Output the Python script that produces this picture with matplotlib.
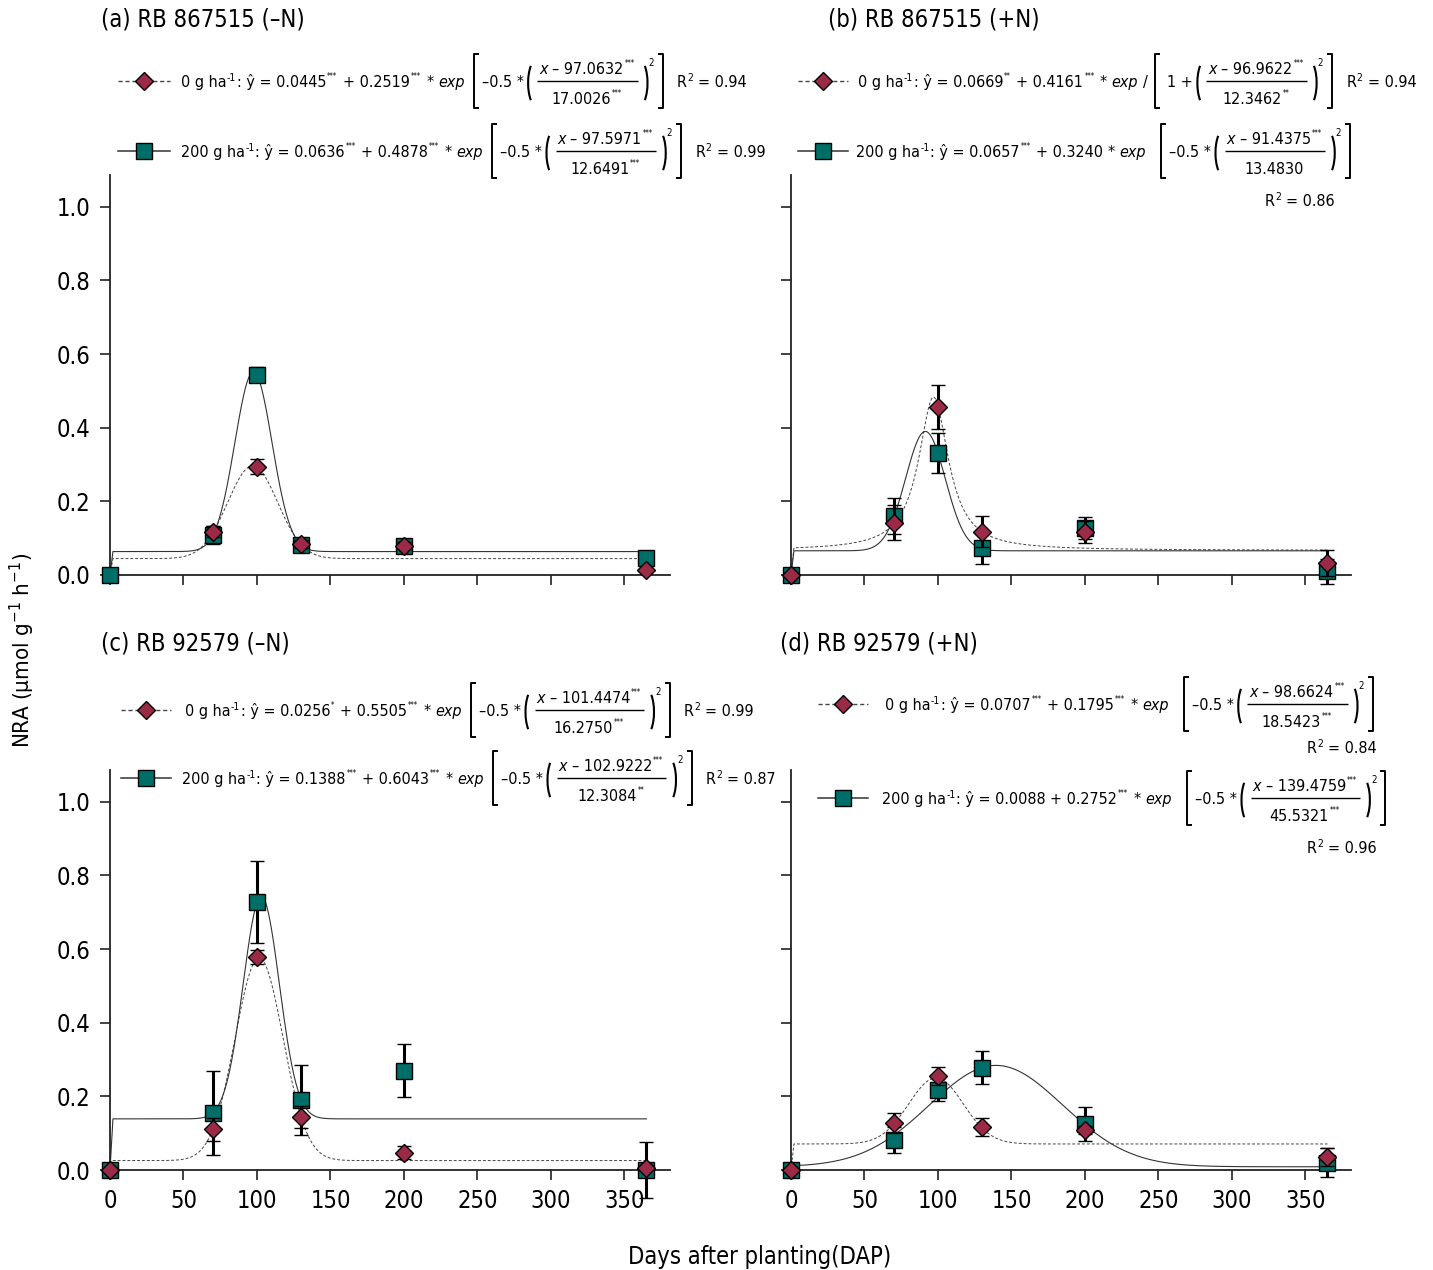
import numpy as np
import matplotlib
matplotlib.use("Agg")
import matplotlib.pyplot as plt
from matplotlib.lines import Line2D
from matplotlib.patches import Arc

plt.rcParams['font.family'] = ['DejaVu Sans']
plt.rcParams['font.stretch'] = 'condensed'
plt.rcParams['mathtext.fontset'] = 'dejavusans'

W, H = 1433, 1270

dap = [0, 70, 100, 130, 200, 365]
titles = ["(a) RB 867515 (–N)", "(b) RB 867515 (+N)", "(c) RB 92579 (–N)", "(d) RB 92579 (+N)"]
doses = ["0", "200"]

# NRA means and standard errors, 0 g/ha (diamonds)
nra_0 = [[np.nan, 0.117, 0.294, 0.084, 0.080, 0.013],
         [0.0, 0.142, 0.457, 0.118, 0.117, 0.032],
         [0.0, 0.110, 0.578, 0.145, 0.047, 0.005],
         [0.0, 0.128, 0.256, 0.117, 0.109, 0.035]]
err_0 = [[0.0, 0.015, 0.020, 0.012, 0.010, 0.005],
         [0.0, 0.047, 0.060, 0.043, 0.030, 0.036],
         [0.0, 0.030, 0.020, 0.030, 0.017, 0.005],
         [0.0, 0.028, 0.025, 0.025, 0.010, 0.025]]
# 200 g/ha (squares)
nra_200 = [[0.0, 0.109, 0.544, 0.082, 0.080, 0.046],
           [0.0, 0.160, 0.332, 0.073, 0.128, 0.010],
           [0.0, 0.155, 0.727, 0.190, 0.270, 0.000],
           [0.0, 0.082, 0.218, 0.278, 0.125, 0.020]]
err_200 = [[0.0, 0.025, 0.020, 0.018, 0.010, 0.005],
           [0.0, 0.050, 0.054, 0.043, 0.030, 0.034],
           [0.0, 0.115, 0.112, 0.095, 0.073, 0.075],
           [0.0, 0.035, 0.032, 0.045, 0.045, 0.040]]

# fitted parameters (a, b, x0, s), significance stars, model, R2
fit_0 = [(0.0445, 0.2519, 97.0632, 17.0026), (0.0669, 0.4161, 96.9622, 12.3462),
         (0.0256, 0.5505, 101.4474, 16.2750), (0.0707, 0.1795, 98.6624, 18.5423)]
stars_0 = [("***", "***", "***", "***"), ("**", "***", "***", "**"),
           ("*", "***", "***", "***"), ("***", "***", "***", "***")]
model_0 = ["gauss", "lorentz", "gauss", "gauss"]
r2_0 = [0.94, 0.94, 0.99, 0.84]

fit_200 = [(0.0636, 0.4878, 97.5971, 12.6491), (0.0657, 0.3240, 91.4375, 13.4830),
           (0.1388, 0.6043, 102.9222, 12.3084), (0.0088, 0.2752, 139.4759, 45.5321)]
stars_200 = [("***", "***", "***", "***"), ("***", "", "***", ""),
             ("***", "***", "***", "**"), ("", "***", "***", "***")]
model_200 = ["gauss", "gauss", "gauss", "gauss"]
r2_200 = [0.99, 0.86, 0.87, 0.96]

red = "#9b2a47"
teal = "#006e68"
EQ_SIZE = 11.5
SPACE = 4.5


def model(x, p, kind):
    a, b, mu, s = p
    if kind == "lorentz":
        return a + b / (1 + ((x - mu) / s) ** 2)
    return a + b * np.exp(-0.5 * ((x - mu) / s) ** 2)


def curve(p, kind):
    x = np.linspace(2, 365, 500)
    y = model(x, p, kind)
    return np.r_[0, x], np.r_[0, y]


def fx(x):
    return x / W


def fy(y):
    return 1 - y / H


fig = plt.figure(figsize=(W / 100, H / 100), dpi=100)
renderer = fig.canvas.get_renderer()


def put(x, base, s, size=EQ_SIZE, style="normal"):
    t = fig.text(fx(x), fy(base), s, fontsize=size, va="baseline", ha="left", style=style)
    return t, t.get_window_extent(renderer).width


def pline(xs, ys, lw=1.4):
    fig.add_artist(Line2D([fx(v) for v in xs], [fy(v) for v in ys], transform=fig.transFigure,
                          color="black", lw=lw, solid_capstyle="butt"))


def layout(tokens, x, yc):
    """Draw equation tokens left to right around centre line yc; return end x and text artists."""
    base = yc + 6
    arts = []
    for tok in tokens:
        kind = tok[0]
        if kind in ("t", "it"):
            s = tok[1]
            x += SPACE * (len(s) - len(s.lstrip(" ")))
            t, w = put(x, base, s.strip(" "), style="italic" if kind == "it" else "normal")
            arts.append(t)
            x += w + SPACE * (len(s) - len(s.rstrip(" ")))
        elif kind == "sup":
            t, w = put(x + 0.5, base - 6, tok[1], size=7.5)
            arts.append(t)
            x += w + 1
        elif kind == "star":
            if tok[1]:
                t, w = put(x + 1, base - 8, tok[1], size=5.5)
                arts.append(t)
                x += w + 2
        elif kind == "gap":
            x += tok[1]
        elif kind == "lbr":
            pline([x + 6, x + 1, x + 1, x + 6], [yc - 27, yc - 27, yc + 27, yc + 27])
            x += 9
        elif kind == "rbr":
            pline([x + 2, x + 7, x + 7, x + 2], [yc - 27, yc - 27, yc + 27, yc + 27])
            x += 11
        elif kind == "lpar":
            fig.add_artist(Arc((fx(x + 9), fy(yc + 2)), 18 / W, 48 / H, theta1=108, theta2=252,
                               transform=fig.transFigure, color="black", lw=1.5))
            x += 9
        elif kind == "rpar":
            fig.add_artist(Arc((fx(x + 1), fy(yc + 2)), 18 / W, 48 / H, theta1=-72, theta2=72,
                               transform=fig.transFigure, color="black", lw=1.5))
            x += 11
        elif kind == "sq":
            t, w = put(x, yc - 15, "2", size=7)
            arts.append(t)
            x += w + 2
        elif kind == "frac":
            num, den = tok[1], tok[2]
            n_end, n_arts = layout(num, x, yc - 13)
            d_end, d_arts = layout(den, x, yc + 17)
            wn, wd = n_end - x, d_end - x
            w = max(wn, wd) + 4
            for group, wg in ((n_arts, wn), (d_arts, wd)):
                dx = (w - wg) / 2
                for a in group:
                    px, py = a.get_position()
                    a.set_position((px + dx / W, py))
            pline([x, x + w], [yc, yc], lw=1.0)
            x += w
    return x, arts


def head_tokens(dose, p, st):
    a, b, mu, s = p
    return [("t", "%s g ha" % dose), ("sup", "-1"), ("t", ": ŷ = %.4f" % a), ("star", st[0]),
            ("t", " + %.4f" % b), ("star", st[1]), ("t", " * "), ("it", "exp")]


def body_tokens(p, st, kind, gap):
    a, b, mu, s = p
    frac = ("frac", [("it", "x"), ("t", " – %.4f" % mu), ("star", st[2])],
            [("t", "%.4f" % s), ("star", st[3])])
    if kind == "lorentz":
        return [("t", " /"), ("gap", gap), ("lbr",), ("t", " 1 + "), ("lpar",), frac,
                ("rpar",), ("sq",), ("rbr",)]
    return [("gap", gap), ("lbr",), ("t", "–0.5 * "), ("lpar",), frac, ("rpar",), ("sq",), ("rbr",)]


def r2_tokens(r2):
    return [("t", "R"), ("sup", "2"), ("t", " = %.2f" % r2)]


rects = [(110, 575), (791, 575), (110, 1170), (791, 1170)]
axes = []
for i, (l, b) in enumerate(rects):
    ax = fig.add_axes([fx(l), fy(b), 560 / W, 400 / H])
    axes.append(ax)

# legend rows: (line x0, x1, centre y, text x, gap before bracket, separate R2 position or None)
rows = [
    [(118, 170, 81, 181, 8, None), (118, 170, 151, 181, 8, None)],
    [(798, 848, 81, 858, 6, None), (798, 848, 151, 856, 14, (1265, 206))],
    [(121, 171, 710, 185, 8, None), (121, 171, 778, 182, 8, None)],
    [(818, 868, 704, 885, 14, (1307, 753)), (818, 868, 798, 882, 14, (1307, 853))],
]
title_pos = [(101, 20), (828, 20), (101, 643), (780, 643)]
ebar_lw = [1.3, 2.2, 2.2, 2.2]

for i, ax in enumerate(axes):
    styles = [
        dict(y=nra_0[i], e=err_0[i], p=fit_0[i], st=stars_0[i], kind=model_0[i], r2=r2_0[i],
             marker="D", ms=9, color=red, ls=(0, (3, 2)), lw=0.7, lc="#444444", z=5),
        dict(y=nra_200[i], e=err_200[i], p=fit_200[i], st=stars_200[i], kind=model_200[i], r2=r2_200[i],
             marker="s", ms=11, color=teal, ls="-", lw=0.8, lc="#333333", z=3),
    ]
    for s in styles:
        cx, cy = curve(s["p"], s["kind"])
        ax.plot(cx, cy, ls=s["ls"], lw=s["lw"], color=s["lc"], zorder=2)
    for s in styles[::-1]:
        cont = ax.errorbar(dap, s["y"], yerr=s["e"], fmt=s["marker"], ms=s["ms"], mfc=s["color"],
                           mec="black", mew=1.0, ecolor="black", elinewidth=ebar_lw[i],
                           capsize=5, capthick=ebar_lw[i], zorder=s["z"])
        for art in cont.get_children():
            art.set_clip_on(False)

    ax.set_xlim(0, 381)
    ax.set_ylim(0, 1.086)
    ax.set_xticks(np.arange(0, 351, 50))
    ax.set_yticks(np.arange(0, 1.01, 0.2))
    ax.set_yticklabels(["%.1f" % v for v in np.arange(0, 1.01, 0.2)])
    for side in ["top", "right"]:
        ax.spines[side].set_visible(False)
    for side in ["left", "bottom"]:
        ax.spines[side].set_linewidth(1.3)
        ax.spines[side].set_color("#222222")
    ax.tick_params(direction="out", length=7, width=1.2, labelsize=17, color="#222222")
    ax.tick_params(axis="y", pad=7)
    ax.tick_params(axis="x", pad=7)
    if i < 2:
        ax.tick_params(labelbottom=False)
    if i % 2 == 1:
        ax.tick_params(labelleft=False)

    fig.text(fx(title_pos[i][0]), fy(title_pos[i][1]), titles[i], fontsize=17, va="center", ha="left")

    for j, s in enumerate(styles):
        x0, x1, yc, tx, gap, rpos = rows[i][j]
        fig.add_artist(Line2D([fx(x0), fx((x0 + x1) / 2), fx(x1)], [fy(yc)] * 3,
                              transform=fig.transFigure, ls=s["ls"], lw=s["lw"] + 0.3, color=s["lc"],
                              marker=s["marker"], markevery=[1], ms=s["ms"], mfc=s["color"],
                              mec="black", mew=1.0))
        tokens = head_tokens(doses[j], s["p"], s["st"]) + body_tokens(s["p"], s["st"], s["kind"], gap)
        if rpos is None:
            tokens += [("gap", 10)] + r2_tokens(s["r2"])
        layout(tokens, tx, yc)
        if rpos is not None:
            layout(r2_tokens(s["r2"]), rpos[0], rpos[1] - 6)

fig.text(fx(22), fy(650), "NRA (µmol g$^{-1}$ h$^{-1}$)", rotation=90, fontsize=16,
         va="center", ha="center")
fig.text(fx(760), fy(1257), "Days after planting(DAP)", fontsize=17, va="center", ha="center")

fig.savefig("out.png", dpi=100)
